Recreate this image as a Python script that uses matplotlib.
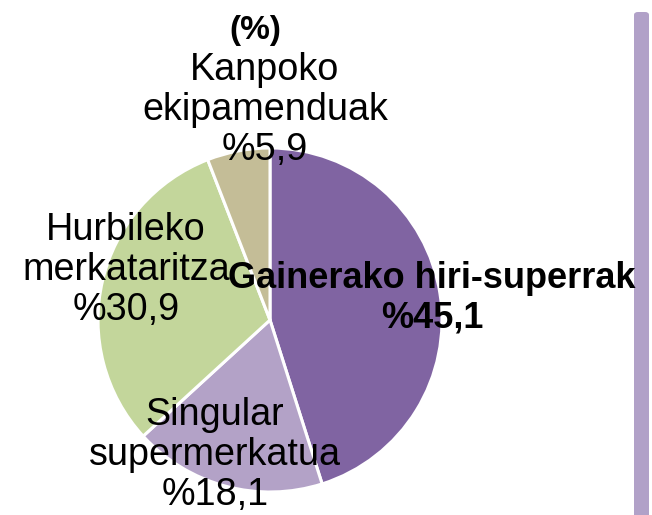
import matplotlib
matplotlib.use('Agg')
import matplotlib.pyplot as plt
from matplotlib.patches import FancyBboxPatch

plt.rcParams['font.family'] = ['Liberation Sans', 'DejaVu Sans']

# ── DATA ─────────────────────────────────────────────
labels = ["Gainerako hiri-superrak", "Singular\nsupermerkatua",
          "Hurbileko\nmerkataritza", "Kanpoko\nekipamenduak"]
values = [45.1, 18.1, 30.9, 5.9]
colors = ["#8064A2", "#B3A2C7", "#C3D69B", "#C4BD97"]
bold = [True, False, False, False]
# label centres in pixels (x, y from top)
label_pos = [(432, 298), (215, 455), (126, 270), (265, 110)]

W, H = 652, 515
CX, CY, R = 270, 320, 172

fig = plt.figure(figsize=(W / 100, H / 100), dpi=100)
fig.patch.set_facecolor('white')
ax = fig.add_axes([(CX - R) / W, (H - CY - R) / H, 2 * R / W, 2 * R / H])
ax.pie(values, colors=colors, startangle=90, counterclock=False, radius=1,
       wedgeprops=dict(edgecolor='white', linewidth=2.2))
ax.set_xlim(-1, 1)
ax.set_ylim(-1, 1)
ax.set_aspect('equal')
ax.axis('off')

for lab, v, (px, py), b in zip(labels, values, label_pos, bold):
    txt = f"{lab}\n%{v:.1f}".replace('.', ',')
    fig.text(px / W, 1 - py / H, txt, ha='center', va='center',
             fontsize=26 if b else 27.2,
             fontweight='bold' if b else 'normal',
             color='black', linespacing=1.15)

# title
fig.text(255 / W, 1 - 31 / H, "(%)", ha='center', va='center',
         fontsize=24, fontweight='bold', color='black')

# decorative vertical bar on the right
bar = FancyBboxPatch((634 / W, -0.05), 15 / W, 1.05 - 12 / H,
                     boxstyle='round,pad=0,rounding_size=0.006',
                     transform=fig.transFigure, facecolor='#B1A1C8',
                     edgecolor='none', zorder=0)
fig.patches.append(bar)

fig.savefig('out.png', dpi=100, facecolor='white')
